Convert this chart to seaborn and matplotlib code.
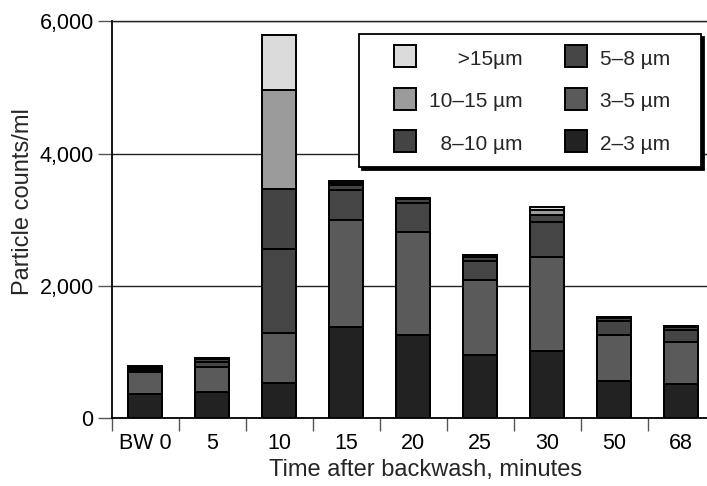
import matplotlib
matplotlib.use("Agg")
import matplotlib.pyplot as plt
import seaborn as sns
import pandas as pd
import numpy as np
from matplotlib.lines import Line2D

sns.set_theme(style="white")
plt.rcParams['font.family'] = ['Liberation Sans', 'DejaVu Sans']

categories = ["BW 0", "5", "10", "15", "20", "25", "30", "50", "68"]
s_2_3 = [370, 400, 530, 1380, 1250, 960, 1020, 560, 520]
s_3_5 = [320, 370, 760, 1620, 1560, 1130, 1410, 700, 630]
s_5_8 = [40, 80, 1270, 450, 440, 280, 530, 210, 180]
s_8_10 = [30, 40, 910, 70, 60, 70, 110, 50, 50]
s_10_15 = [15, 15, 1500, 40, 15, 20, 80, 10, 5]
s_15 = [10, 10, 830, 30, 5, 10, 40, 5, 5]

series = [s_2_3, s_3_5, s_5_8, s_8_10, s_10_15, s_15]
colors = ["#222222", "#5a5a5a", "#454545", "#444444", "#9b9b9b", "#dbdbdb"]

W, H = 707, 486
fig = plt.figure(figsize=(W / 100, H / 100), dpi=100)
ax = fig.add_axes([111.7 / W, 68 / H, 603 / W, (418 - 21.5) / H])

cum = np.cumsum(np.array(series), axis=0)
for k in range(len(series) - 1, -1, -1):
    df = pd.DataFrame({"t": categories, "v": cum[k]})
    sns.barplot(data=df, x="t", y="v", order=categories, color=colors[k],
                saturation=1, edgecolor="black", linewidth=1.4, width=0.5,
                ax=ax, zorder=3)

ax.set_xlim(-0.5, len(categories) - 0.5)
ax.set_ylim(0, 6000)
ax.set_yticks([0, 2000, 4000, 6000])
ax.set_yticklabels(["0", "2,000", "4,000", "6,000"])
ax.yaxis.grid(True, color="#222222", linewidth=1.0, zorder=0)
ax.xaxis.grid(False)
ax.set_axisbelow(True)

ax.spines["right"].set_visible(False)
ax.spines["top"].set_color("#222222")
ax.spines["top"].set_linewidth(1.0)
for side in ["left", "bottom"]:
    ax.spines[side].set_color("black")
    ax.spines[side].set_linewidth(1.3)

ax.set_xticks(np.arange(len(categories)))
ax.set_xticklabels(categories)
ax.set_xticks(np.arange(len(categories) + 1) - 0.5, minor=True)
ax.tick_params(axis="x", which="major", length=0, pad=11, labelsize=15.5, colors="black")
ax.tick_params(axis="x", which="minor", length=9, width=1.0, color="#555555", direction="out", bottom=True)
ax.tick_params(axis="y", which="major", length=10, width=1.0, color="#555555", pad=3,
               labelsize=15.5, labelcolor="black", left=True, direction="out")

ax.set_xlabel("Time after backwash, minutes", fontsize=17)
ax.set_ylabel("Particle counts/ml", fontsize=17)
ax.xaxis.set_label_coords((426 - 111.7) / 603, (418 - 459) / 396.5)
ax.yaxis.set_label_coords((34 - 111.7) / 603, (418 - 202) / 396.5)

# legend (column-major: left column >15, 10-15, 8-10; right column 5-8, 3-5, 2-3)
order = [5, 4, 3, 2, 1, 0]
disp = {5: "     >15\u00b5m", 4: "10\u201315 \u00b5m", 3: "  8\u201310 \u00b5m",
        2: "5\u20138 \u00b5m   ", 1: "3\u20135 \u00b5m   ", 0: "2\u20133 \u00b5m   "}
handles = [Line2D([], [], linestyle="none", marker="s", markersize=16.5,
                  markerfacecolor=colors[i], markeredgecolor="black", markeredgewidth=1.4)
           for i in order]
leg = ax.legend(handles, [disp[i] for i in order], ncol=2, loc="upper left",
                bbox_to_anchor=(359 / W, 1 - 34.3 / H), bbox_transform=fig.transFigure,
                borderaxespad=0, frameon=True, fancybox=False, framealpha=1,
                edgecolor="black", fontsize=15, borderpad=0.65, labelspacing=1.02,
                handlelength=3.1, handleheight=1.1, handletextpad=-0.4,
                columnspacing=1.0,
                shadow={"ox": 2.2, "oy": -2.2, "facecolor": "black", "edgecolor": "black", "alpha": 1})
leg.get_frame().set_linewidth(1.3)
leg.set_zorder(10)

fig.savefig("out.png", dpi=100)
